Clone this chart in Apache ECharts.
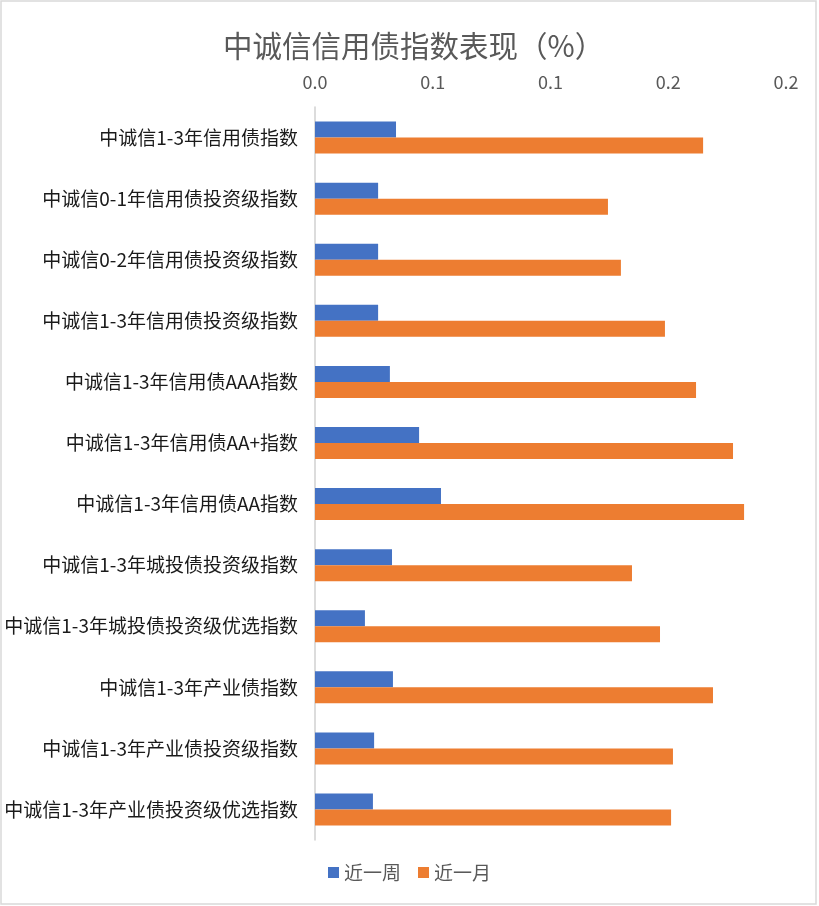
<!DOCTYPE html>
<html>
<head>
<meta charset="utf-8">
<script src="https://cdn.jsdelivr.net/npm/echarts@6/dist/echarts.min.js"></script>
<style>
  html, body { margin: 0; padding: 0; background: #fff; }
  #main { width: 819px; height: 906px; }
</style>
</head>
<body>
<div id="main"></div>
<script>
var categories = [
  '中诚信1-3年信用债指数',
  '中诚信0-1年信用债投资级指数',
  '中诚信0-2年信用债投资级指数',
  '中诚信1-3年信用债投资级指数',
  '中诚信1-3年信用债AAA指数',
  '中诚信1-3年信用债AA+指数',
  '中诚信1-3年信用债AA指数',
  '中诚信1-3年城投债投资级指数',
  '中诚信1-3年城投债投资级优选指数',
  '中诚信1-3年产业债指数',
  '中诚信1-3年产业债投资级指数',
  '中诚信1-3年产业债投资级优选指数'
];
// 近一周
var weekValues = [0.0344, 0.0268, 0.0268, 0.0268, 0.0318, 0.0442, 0.0535, 0.0327, 0.0212, 0.0331, 0.0251, 0.0246];
// 近一月
var monthValues = [0.1648, 0.1244, 0.1299, 0.1486, 0.1618, 0.1775, 0.1822, 0.1346, 0.1465, 0.1690, 0.1520, 0.1512];
var tickLabels = ['0.0', '0.1', '0.1', '0.2', '0.2'];

var chart = echarts.init(document.getElementById('main'), null, { renderer: 'canvas' });

var font = '"Noto Sans CJK SC", "Noto Sans", sans-serif';

var option = {
  backgroundColor: '#fff',
  color: ['#4472C4', '#ED7D31'],
  textStyle: { fontFamily: font },
  title: {
    text: '中诚信信用债指数表现（%）',
    left: 218,
    top: 26,
    textStyle: { fontSize: 29.5, fontWeight: 'normal', color: '#595959', fontFamily: font }
  },
  legend: {
    bottom: 19,
    left: 'center',
    itemWidth: 11,
    itemHeight: 11,
    itemGap: 17,
    icon: 'rect',
    textStyle: { fontSize: 19, color: '#595959', fontFamily: font },
    data: ['近一周', '近一月']
  },
  grid: { left: 315, right: 33, top: 107, bottom: 66, containLabel: false },
  xAxis: {
    type: 'value',
    position: 'top',
    min: 0,
    max: 0.2,
    interval: 0.05,
    axisLine: { show: false },
    axisTick: { show: false },
    splitLine: { show: false },
    axisLabel: {
      margin: 16,
      fontSize: 18,
      color: '#595959',
      formatter: function (v) { return tickLabels[Math.round(v / 0.05)]; }
    }
  },
  yAxis: {
    type: 'category',
    inverse: true,
    data: categories,
    axisLine: { show: true, lineStyle: { color: '#D0D0D0', width: 1.5 } },
    axisTick: { show: false },
    axisLabel: { margin: 17, fontSize: 19, color: '#1a1a1a' }
  },
  series: [
    {
      name: '近一周',
      type: 'bar',
      data: weekValues,
      barWidth: 16,
      barGap: '0%'
    },
    {
      name: '近一月',
      type: 'bar',
      data: monthValues,
      barWidth: 16,
      barGap: '0%'
    }
  ],
  graphic: [
    {
      type: 'rect',
      silent: true,
      shape: { x: 1, y: 1, width: 815, height: 903 },
      style: { fill: 'none', stroke: '#D9D9D9', lineWidth: 1.5 }
    }
  ]
};

chart.setOption(option);
</script>
</body>
</html>
